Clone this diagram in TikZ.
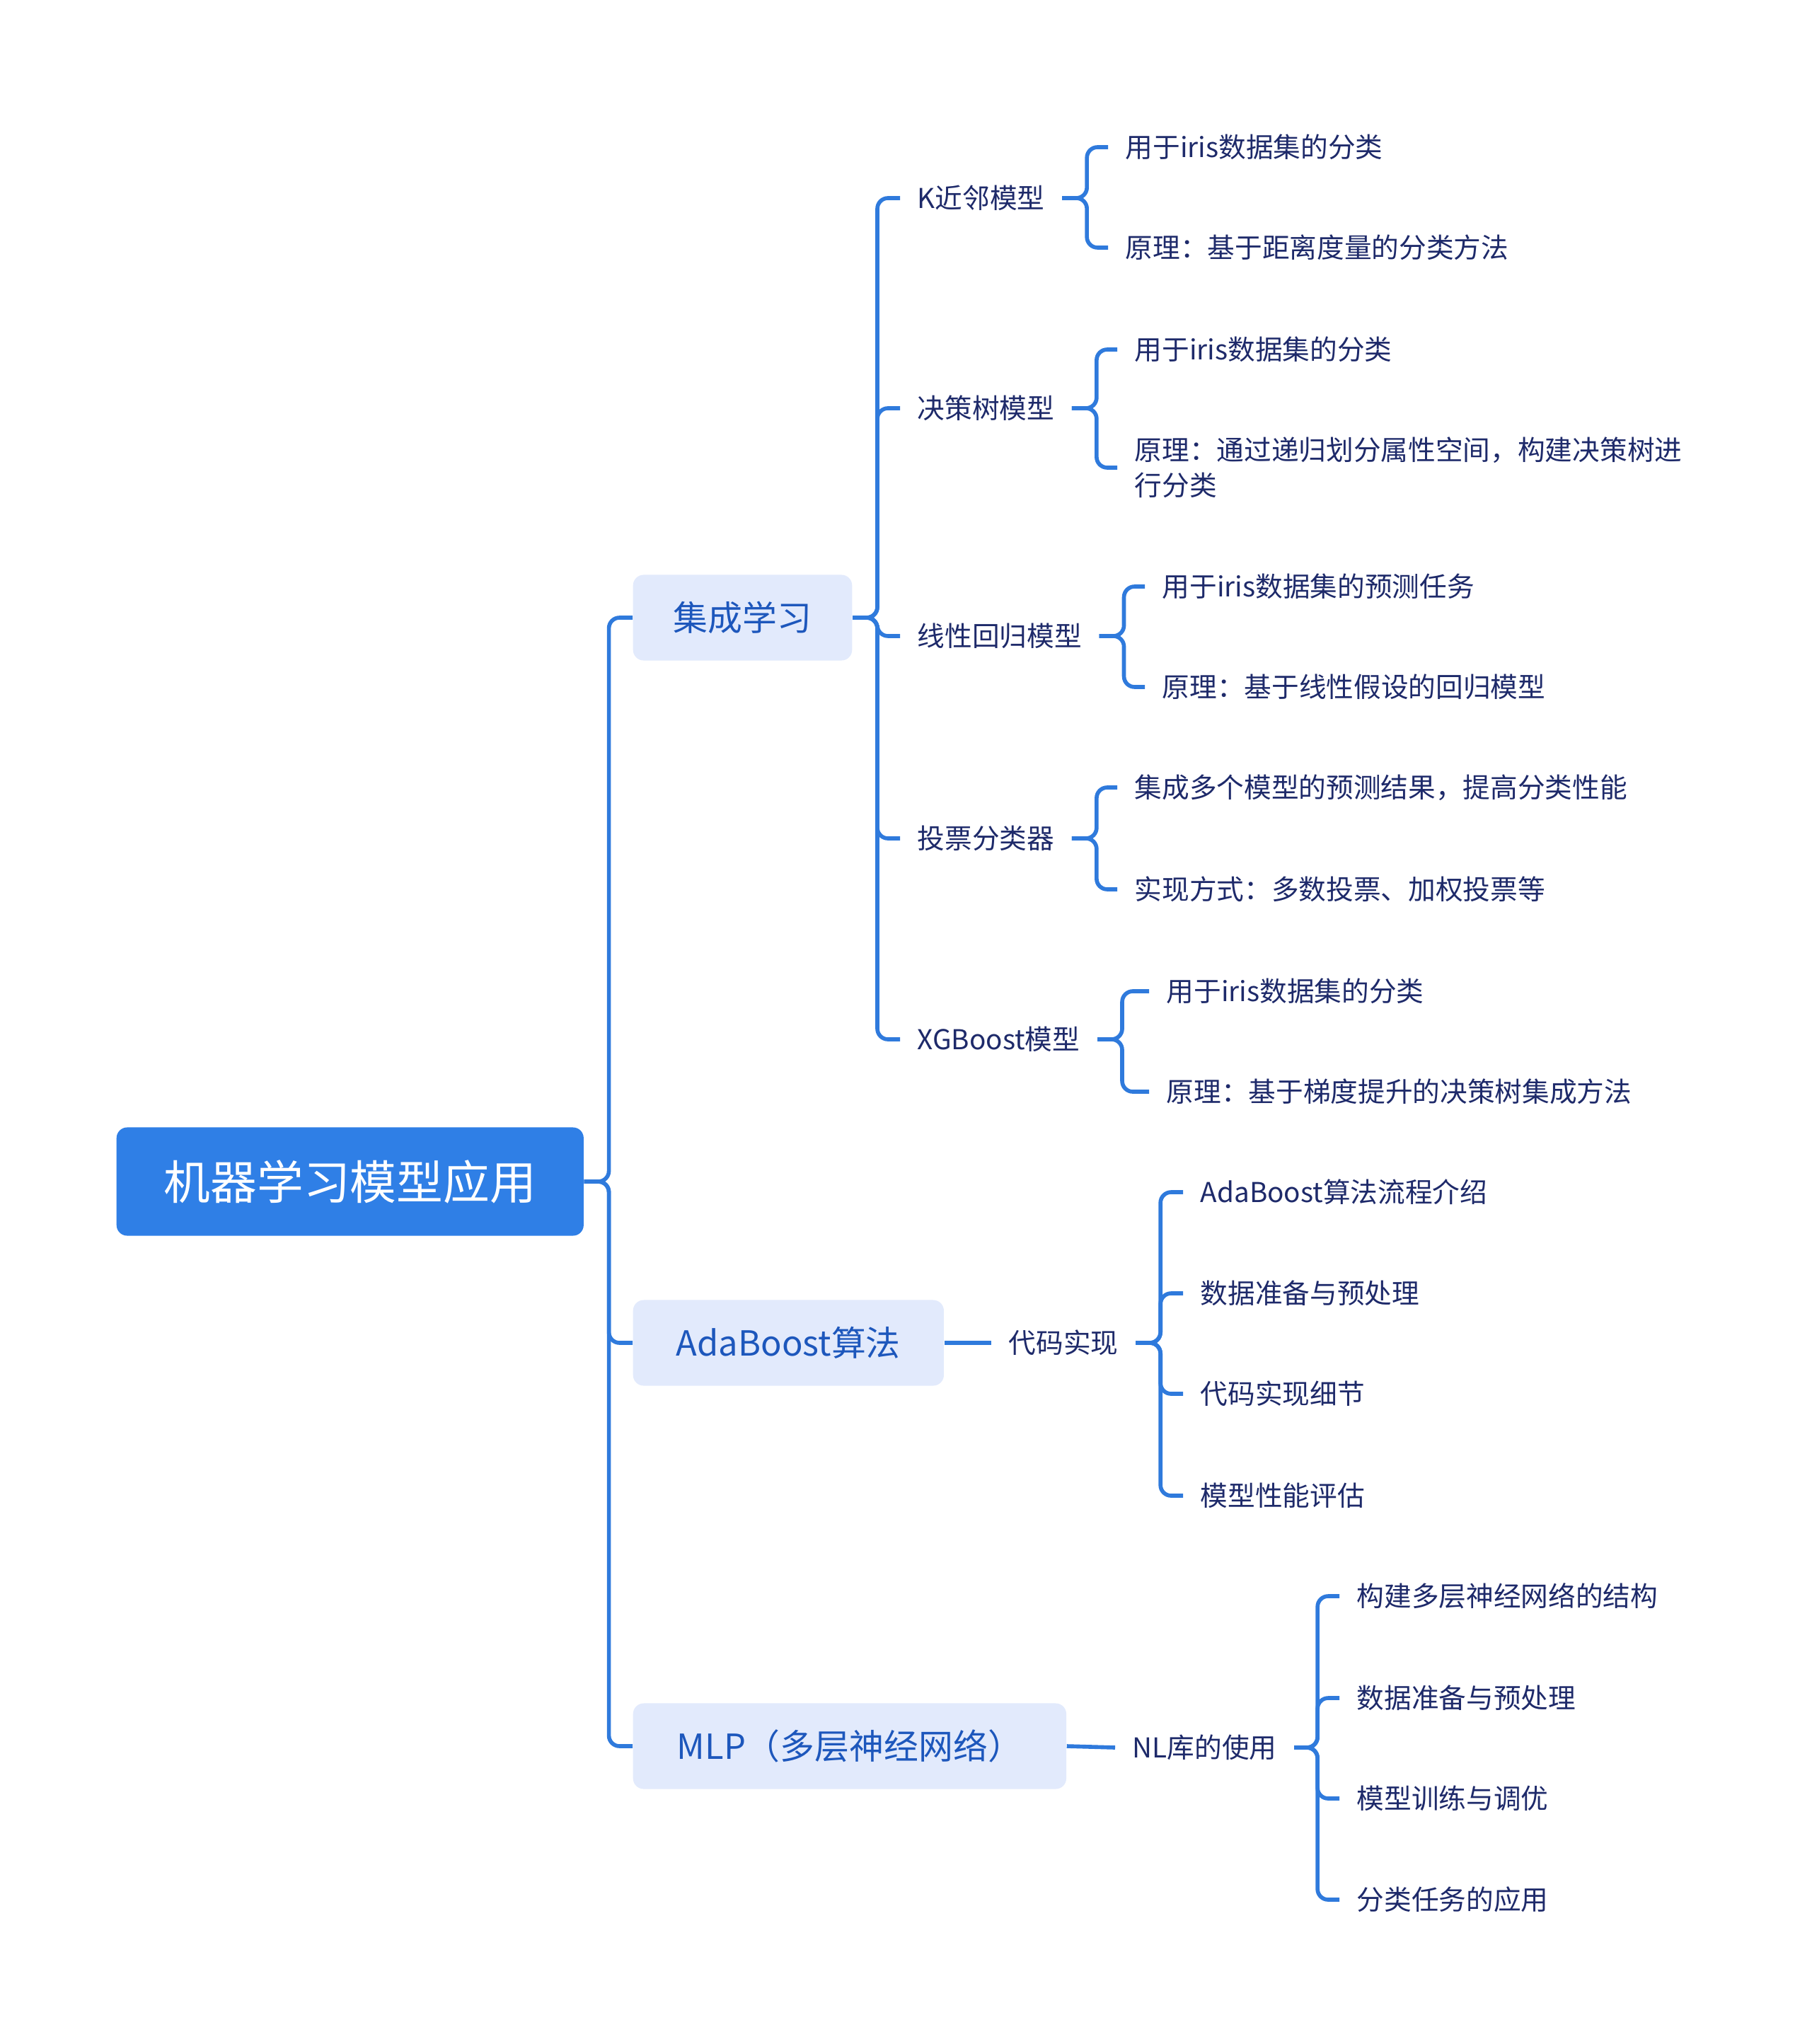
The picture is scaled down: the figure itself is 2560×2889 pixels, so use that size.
\documentclass[tikz,border=0pt]{standalone}
\usepackage{fontspec}
\setmainfont{Noto Sans CJK SC}
\definecolor{rootblue}{HTML}{2F7FE6}
\definecolor{boxblue}{HTML}{E2EAFC}
\definecolor{midblue}{HTML}{1D57BC}
\definecolor{navy}{HTML}{1E2A6A}
\definecolor{linkblue}{HTML}{2F7ADC}
\tikzset{
root/.style={fill=rootblue, text=white, rounded corners=0.15cm, font=\fontsize{18.7}{22}\selectfont, inner xsep=0.67cm, minimum height=1.53cm, anchor=west},
topic/.style={fill=boxblue, text=midblue, rounded corners=0.15cm, font=\fontsize{13.9}{17}\selectfont, inner xsep=0.57cm, minimum height=1.21cm, anchor=west},
leaf/.style={text=navy, font=\fontsize{11}{14.2}\selectfont, inner xsep=0.24cm, inner ysep=0.05cm, anchor=west, align=left},
link/.style={draw=linkblue, line width=1.6pt, rounded corners=0.15cm}}

\begin{document}
\begin{tikzpicture}[x=0.01cm, y=-0.01cm]
    \useasboundingbox (0,0) rectangle (2560,2889);

    \node[root] (R) at (164,1670) {机器学习模型应用};

    \node[topic, minimum width=3.09cm] (JC) at (894,873) {集成学习};
    \node[topic, minimum width=4.39cm] (AB) at (894,1898) {AdaBoost算法};
    \node[topic, minimum width=6.12cm] (MLP) at (894,2468) {MLP（多层神经网络）};

    \node[leaf] (KNN) at (1272,280) {K近邻模型};
    \node[leaf] (DT) at (1272,577) {决策树模型};
    \node[leaf] (LR) at (1272,899) {线性回归模型};
    \node[leaf] (VT) at (1272,1185) {投票分类器};
    \node[leaf] (XG) at (1272,1469) {XGBoost模型};

    \node[leaf] (KNN1) at (1566,208) {用于iris数据集的分类};
    \node[leaf] (KNN2) at (1566,350) {原理：基于距离度量的分类方法};
    \node[leaf] (DT1) at (1579,494) {用于iris数据集的分类};
    \node[leaf] (DT2) at (1579,661) {原理：通过递归划分属性空间，构建决策树进\\行分类};
    \node[leaf] (LR1) at (1618,829) {用于iris数据集的预测任务};
    \node[leaf] (LR2) at (1618,971) {原理：基于线性假设的回归模型};
    \node[leaf] (VT1) at (1579,1113) {集成多个模型的预测结果，提高分类性能};
    \node[leaf] (VT2) at (1579,1257) {实现方式：多数投票、加权投票等};
    \node[leaf] (XG1) at (1624,1401) {用于iris数据集的分类};
    \node[leaf] (XG2) at (1624,1543) {原理：基于梯度提升的决策树集成方法};

    \node[leaf] (CODE) at (1401,1898) {代码实现};
    \node[leaf] (CODE1) at (1672,1685) {AdaBoost算法流程介绍};
    \node[leaf] (CODE2) at (1672,1828) {数据准备与预处理};
    \node[leaf] (CODE3) at (1672,1970) {代码实现细节};
    \node[leaf] (CODE4) at (1672,2114) {模型性能评估};

    \node[leaf] (NL) at (1576,2470) {NL库的使用};
    \node[leaf] (NL1) at (1893,2256) {构建多层神经网络的结构};
    \node[leaf] (NL2) at (1893,2400) {数据准备与预处理};
    \node[leaf] (NL3) at (1893,2542) {模型训练与调优};
    \node[leaf] (NL4) at (1893,2685) {分类任务的应用};

    \foreach \t in {JC,AB,MLP}
        \draw[link] (R.east) -- ++(35,0) |- (\t.west);
    \foreach \t in {KNN,DT,LR,VT,XG}
        \draw[link] (JC.east) -- ++(35,0) |- (\t.west);
    \foreach \p in {KNN,DT,LR,VT,XG}
        \foreach \i in {1,2}
            \draw[link] (\p.east) -- ++(35,0) |- (\p\i.west);

    \draw[link] (AB.east) -- (CODE.west);
    \foreach \i in {1,...,4}
        \draw[link] (CODE.east) -- ++(35,0) |- (CODE\i.west);
    \draw[link] (MLP.east) -- (NL.west);
    \foreach \i in {1,...,4}
        \draw[link] (NL.east) -- ++(33,0) |- (NL\i.west);

\end{tikzpicture}
\end{document}
